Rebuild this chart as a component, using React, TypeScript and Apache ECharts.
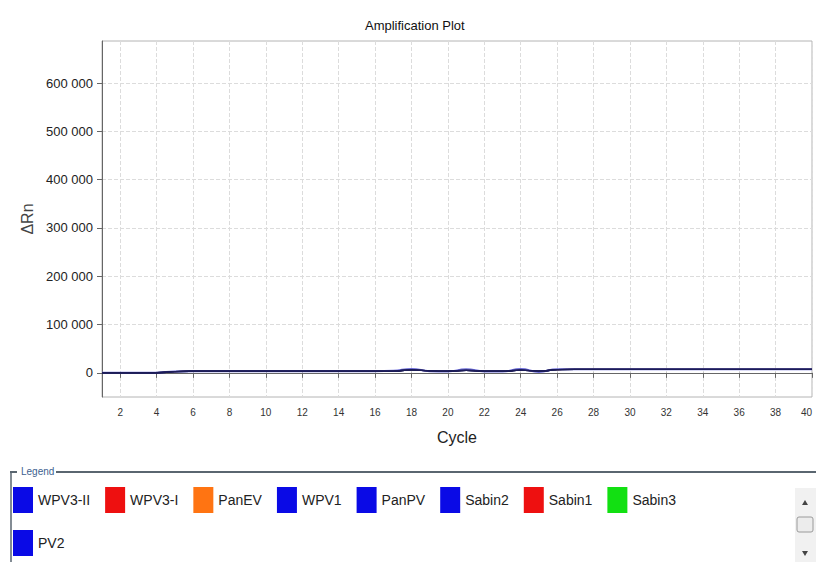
import React, { useEffect, useRef } from 'react';
import * as echarts from 'echarts';

const cycles = [1, 2, 3, 4, 5, 6, 7, 8, 9, 10, 11, 12, 13, 14, 15, 16, 17, 18, 19, 20, 21, 22, 23, 24, 25, 26, 27, 28, 29, 30, 31, 32, 33, 34, 35, 36, 37, 38, 39, 40];
const xTicks = [2, 4, 6, 8, 10, 12, 14, 16, 18, 20, 22, 24, 26, 28, 30, 32, 34, 36, 38, 40];
const yTicks = [0, 100000, 200000, 300000, 400000, 500000, 600000];

const flatTrace = [0, 0, 0, 200, 2500, 3200, 3300, 3300, 3300, 3300, 3300, 3300, 3300, 3300, 3300, 3300, 3600, 6200, 4000, 3300, 5200, 3600, 3300, 5600, 3600, 6600, 7200, 7200, 7200, 7200, 7200, 7200, 7200, 7200, 7200, 7200, 7200, 7200, 7200, 7200];
const wavyTrace = [0, 0, 0, 300, 3000, 3500, 3500, 3500, 3500, 3500, 3500, 3500, 3500, 3500, 3500, 3500, 4200, 8000, 3500, 2800, 7500, 3000, 2800, 7800, 2000, 7500, 7500, 7500, 7500, 7500, 7500, 7500, 7500, 7500, 7500, 7500, 7500, 7500, 7500, 7500];

const legendRow1 = ['WPV3-II', 'WPV3-I', 'PanEV', 'WPV1', 'PanPV', 'Sabin2', 'Sabin1', 'Sabin3'];
const legendRow2 = ['PV2'];
const legendColors: Record<string, string> = {
  'WPV3-II': '#0a0ae6',
  'WPV3-I': '#ee1010',
  PanEV: '#ff7412',
  WPV1: '#0a0ae6',
  PanPV: '#0a0ae6',
  Sabin2: '#0a0ae6',
  Sabin1: '#ee1010',
  Sabin3: '#12e012',
};

const FONT = 'Liberation Sans, Arial, sans-serif';

export default function App() {
  const ref = useRef<HTMLDivElement>(null);
  useEffect(() => {
    document.body.style.margin = '0';
    if (!ref.current) return;
    const chart = echarts.init(ref.current, undefined, { renderer: 'svg' });
    const pairs = (arr: number[]) => cycles.map((c, i) => [c, arr[i]]);
    const hidden = (name: string, arr: number[]) => ({
      name,
      type: 'line',
      data: pairs(arr),
      showSymbol: false,
      smooth: 0.5,
      lineStyle: { color: legendColors[name], width: 1 },
      itemStyle: { color: legendColors[name] },
    });
    const traced = (name: string, arr: number[], color: string, width: number) => ({
      name,
      type: 'line',
      data: pairs(arr),
      showSymbol: false,
      smooth: 0.5,
      lineStyle: { color, width },
      itemStyle: { color: legendColors[name] || '#0a0ae6' },
    });
    const legendItem = (n: string) => ({ name: n, icon: 'rect', itemStyle: { color: legendColors[n] || '#0a0ae6' } });
    const legendBase = {
      orient: 'horizontal',
      left: 8,
      itemWidth: 20,
      itemHeight: 26,
      itemGap: 15,
      selectedMode: false,
      textStyle: { fontFamily: FONT, fontSize: 14, color: '#222' },
    };
    chart.setOption({
      animation: false,
      title: {
        text: 'Amplification Plot',
        left: 360,
        top: 14,
        textStyle: { fontFamily: FONT, fontSize: 13, fontWeight: 'normal', color: '#111' },
      },
      legend: [
        { ...legendBase, top: 482, data: legendRow1.map(legendItem) },
        { ...legendBase, top: 525, data: legendRow2.map(legendItem) },
      ],
      grid: {
        left: 102,
        right: 4,
        top: 41,
        bottom: 165,
        show: true,
        borderColor: '#b4b4b4',
        borderWidth: 1,
        backgroundColor: '#fff',
        outerBoundsMode: 'none',
        containLabel: false,
      },
      xAxis: {
        type: 'value',
        min: 1,
        max: 40,
        name: 'Cycle',
        nameLocation: 'middle',
        nameGap: 32,
        nameTextStyle: { fontFamily: FONT, fontSize: 16, color: '#222' },
        axisLine: { lineStyle: { color: '#666' } },
        axisTick: { customValues: xTicks, length: 5, lineStyle: { color: '#666' } },
        axisLabel: { customValues: xTicks, fontFamily: FONT, fontSize: 10, color: '#333', margin: 10, alignMaxLabel: 'right' },
        splitLine: { show: true, lineStyle: { color: '#dcdcdc', type: 'dashed', width: 1 } },
      },
      yAxis: {
        type: 'value',
        min: -50000,
        max: 687000,
        name: 'ΔRn',
        nameLocation: 'middle',
        nameRotate: 90,
        nameGap: 66,
        nameTextStyle: { fontFamily: FONT, fontSize: 16, color: '#444' },
        axisLine: { show: true, lineStyle: { color: '#666' } },
        axisTick: { show: true, customValues: yTicks, length: 5, lineStyle: { color: '#666' } },
        axisLabel: {
          customValues: yTicks,
          fontFamily: FONT,
          fontSize: 13,
          color: '#222',
          margin: 9,
          formatter: (v: number) => (v === 0 ? '0' : `${Math.round(v / 1000)} 000`),
        },
        splitLine: { show: true, lineStyle: { color: '#dcdcdc', type: 'dashed', width: 1 } },
      },
      series: [
        hidden('WPV3-I', flatTrace),
        hidden('PanEV', flatTrace),
        hidden('Sabin1', flatTrace),
        hidden('Sabin3', flatTrace),
        traced('WPV3-II', wavyTrace, '#6c6cd8', 2),
        traced('WPV1', flatTrace, '#1c1c58', 1.4),
        traced('PanPV', flatTrace, '#1c1c58', 1.4),
        traced('Sabin2', flatTrace, '#1c1c58', 1.4),
        traced('PV2', flatTrace, '#1c1c58', 1.4),
      ],
      graphic: [
        { type: 'line', shape: { x1: 10, y1: 472, x2: 17, y2: 472 }, style: { stroke: '#5a6670', lineWidth: 2 } },
        { type: 'line', shape: { x1: 56, y1: 472, x2: 816, y2: 472 }, style: { stroke: '#5a6670', lineWidth: 2 } },
        { type: 'line', shape: { x1: 11, y1: 472, x2: 11, y2: 562 }, style: { stroke: '#5a6670', lineWidth: 1.5 } },
        {
          type: 'text',
          left: 21,
          top: 466,
          style: { text: 'Legend', fontFamily: FONT, fontSize: 10, fill: '#3d5f8f' },
        },
        { type: 'rect', shape: { x: 795, y: 488, width: 21, height: 74 }, style: { fill: '#f1f1f1' } },
        { type: 'polygon', shape: { points: [[802, 505], [808, 505], [805, 500]] }, style: { fill: '#444' } },
        { type: 'rect', shape: { x: 797, y: 517, width: 16, height: 15, r: 2 }, style: { fill: '#ececec', stroke: '#9a9a9a', lineWidth: 1 } },
        { type: 'polygon', shape: { points: [[802, 551], [808, 551], [805, 556]] }, style: { fill: '#444' } },
      ],
    });
    return () => chart.dispose();
  }, []);
  return <div ref={ref} style={{ position: 'fixed', left: 0, top: 0, width: 816, height: 562, background: '#fff' }} />;
}
